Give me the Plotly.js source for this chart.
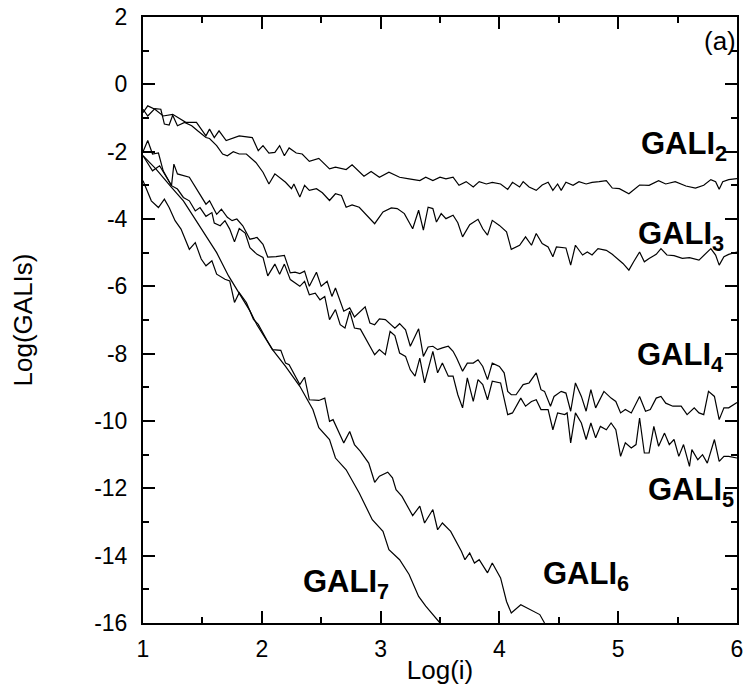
<!DOCTYPE html>
<html>
<head>
<meta charset="utf-8">
<script src="https://cdn.plot.ly/plotly-3.0.1.min.js"></script>
<style>html,body{margin:0;padding:0;background:#fff;}#chart{width:744px;height:698px;}</style>
</head>
<body>
<div id="chart"></div>
<script>
// Log(i) values and Log(GALI_k) values
const gali2X = [1.0,1.04,1.1,1.17,1.25,1.36,1.45,1.53,1.56,1.6,1.64,1.7,1.81,1.92,1.97,2.01,2.06,2.11,2.15,2.19,2.23,2.29,2.34,2.4,2.48,2.57,2.62,2.71,2.76,2.86,2.92,2.99,3.07,3.16,3.24,3.33,3.38,3.44,3.5,3.55,3.61,3.66,3.72,3.78,3.83,3.89,3.94,4.01,4.07,4.11,4.17,4.2,4.25,4.31,4.36,4.41,4.45,4.49,4.52,4.56,4.62,4.67,4.73,4.78,4.84,4.9,4.95,5.01,5.09,5.18,5.26,5.34,5.4,5.48,5.57,5.65,5.72,5.78,5.82,5.85,5.88,5.93,6.0];
const gali2Y = [-0.84,-0.64,-0.74,-0.94,-0.89,-1.13,-1.13,-1.53,-1.33,-1.58,-1.38,-1.67,-1.53,-1.58,-1.97,-1.82,-2.04,-2.02,-1.82,-2.12,-1.89,-2.04,-2.07,-2.29,-2.2,-2.51,-2.46,-2.53,-2.39,-2.73,-2.59,-2.76,-2.61,-2.76,-2.81,-2.86,-2.76,-2.86,-2.76,-2.81,-2.76,-3.0,-2.89,-3.05,-2.89,-2.96,-2.91,-2.96,-3.12,-2.91,-3.05,-2.89,-3.05,-3.15,-2.99,-2.91,-3.15,-2.96,-3.15,-2.91,-3.0,-2.89,-2.96,-2.91,-2.89,-2.86,-3.08,-3.1,-3.25,-2.99,-3.0,-2.86,-2.96,-2.89,-3.02,-3.08,-3.0,-2.83,-2.89,-3.12,-2.89,-2.83,-2.8];

const gali3X = [1.0,1.04,1.1,1.15,1.18,1.22,1.25,1.29,1.35,1.41,1.46,1.53,1.56,1.62,1.67,1.71,1.76,1.81,1.87,1.95,2.01,2.06,2.11,2.16,2.2,2.25,2.27,2.32,2.36,2.4,2.46,2.51,2.57,2.62,2.67,2.71,2.76,2.82,2.88,2.95,3.02,3.09,3.14,3.2,3.27,3.32,3.36,3.4,3.44,3.47,3.51,3.55,3.61,3.65,3.69,3.75,3.82,3.86,3.9,3.94,4.0,4.06,4.1,4.17,4.22,4.27,4.31,4.36,4.41,4.45,4.48,4.56,4.6,4.64,4.7,4.74,4.78,4.83,4.9,4.95,5.04,5.09,5.13,5.18,5.22,5.26,5.32,5.36,5.41,5.47,5.54,5.6,5.68,5.74,5.78,5.82,5.85,5.89,5.93,6.0];
const gali3Y = [-0.74,-0.94,-0.72,-0.74,-1.18,-1.21,-0.92,-1.23,-1.13,-1.23,-1.38,-1.58,-1.61,-1.82,-2.07,-2.12,-2.0,-2.07,-2.07,-2.32,-2.61,-2.96,-2.66,-2.79,-2.91,-3.1,-2.96,-3.35,-3.0,-3.15,-3.1,-3.22,-3.45,-3.25,-3.3,-3.65,-3.58,-3.65,-3.87,-4.14,-3.79,-3.67,-3.69,-3.84,-4.29,-3.74,-4.33,-3.65,-3.69,-4.09,-3.84,-3.99,-3.89,-4.11,-4.53,-4.17,-4.01,-4.29,-4.48,-4.04,-4.19,-4.38,-4.9,-4.78,-4.53,-4.78,-4.43,-4.73,-4.83,-5.12,-4.83,-4.86,-5.37,-4.78,-5.07,-4.98,-5.07,-4.88,-4.93,-5.05,-5.32,-5.52,-5.27,-4.98,-5.27,-5.17,-5.05,-4.88,-5.07,-5.09,-5.17,-5.15,-5.22,-5.02,-4.88,-5.07,-5.37,-5.12,-5.05,-4.98];

const gali4X = [1.0,1.04,1.08,1.13,1.17,1.24,1.26,1.29,1.39,1.45,1.49,1.53,1.56,1.62,1.66,1.71,1.75,1.79,1.84,1.9,1.96,2.01,2.05,2.12,2.19,2.24,2.28,2.32,2.36,2.4,2.46,2.5,2.55,2.59,2.62,2.69,2.74,2.78,2.87,2.91,2.95,2.99,3.04,3.12,3.16,3.21,3.25,3.32,3.36,3.4,3.44,3.48,3.52,3.57,3.61,3.64,3.69,3.73,3.78,3.82,3.86,3.9,3.94,4.0,4.04,4.07,4.1,4.14,4.2,4.25,4.31,4.35,4.38,4.43,4.46,4.52,4.56,4.6,4.64,4.69,4.73,4.77,4.81,4.88,4.94,4.98,5.02,5.06,5.11,5.18,5.23,5.27,5.32,5.36,5.4,5.46,5.53,5.58,5.64,5.68,5.72,5.76,5.81,5.85,5.89,5.93,6.0];
const gali4Y = [-2.0,-1.67,-2.07,-2.04,-2.57,-3.01,-2.37,-2.66,-2.76,-3.11,-3.36,-3.56,-3.46,-3.86,-3.71,-3.95,-4.05,-4.0,-4.2,-4.6,-4.55,-4.75,-5.13,-5.12,-5.08,-5.6,-5.58,-5.62,-5.55,-6.0,-5.58,-6.0,-5.85,-6.3,-6.05,-6.74,-6.64,-6.91,-6.61,-7.09,-7.14,-6.97,-6.99,-7.24,-7.11,-7.29,-7.78,-7.26,-8.08,-7.8,-7.78,-7.88,-7.83,-7.78,-7.93,-8.13,-8.52,-8.28,-8.28,-8.18,-8.38,-8.77,-8.28,-8.38,-8.57,-9.12,-9.22,-9.22,-8.92,-8.87,-8.57,-9.07,-9.12,-9.56,-9.27,-9.12,-9.17,-9.71,-8.87,-9.27,-9.71,-9.07,-9.61,-9.12,-9.32,-9.42,-9.76,-9.66,-9.76,-9.27,-9.71,-9.66,-9.32,-9.27,-9.47,-9.56,-9.56,-9.81,-9.61,-9.76,-9.81,-9.12,-9.27,-9.96,-9.61,-9.61,-9.45];

const gali5X = [1.0,1.08,1.14,1.18,1.24,1.29,1.34,1.39,1.44,1.48,1.53,1.58,1.6,1.65,1.69,1.73,1.77,1.81,1.86,1.9,1.96,2.01,2.05,2.11,2.15,2.19,2.24,2.32,2.36,2.4,2.45,2.49,2.53,2.57,2.62,2.66,2.7,2.74,2.78,2.83,2.95,2.99,3.04,3.08,3.12,3.16,3.21,3.25,3.29,3.33,3.37,3.44,3.48,3.52,3.57,3.61,3.65,3.69,3.73,3.78,3.82,3.86,3.9,3.94,4.01,4.07,4.11,4.18,4.22,4.27,4.31,4.35,4.41,4.45,4.49,4.55,4.57,4.6,4.64,4.69,4.73,4.77,4.81,4.85,4.9,4.94,4.98,5.02,5.06,5.11,5.15,5.18,5.22,5.26,5.3,5.34,5.39,5.43,5.47,5.51,5.55,5.6,5.62,5.67,5.71,5.75,5.81,5.85,5.89,5.93,6.0];
const gali5Y = [-2.12,-2.57,-2.42,-2.66,-3.01,-3.11,-3.36,-3.46,-3.76,-3.66,-3.92,-3.81,-4.12,-4.2,-4.05,-4.3,-4.68,-4.28,-4.42,-4.85,-5.05,-5.14,-5.69,-5.34,-5.64,-5.34,-5.8,-6.0,-5.85,-6.25,-6.2,-6.4,-6.3,-6.99,-6.69,-7.14,-7.24,-6.74,-7.24,-7.27,-8.03,-7.88,-8.03,-7.34,-7.46,-7.98,-8.08,-8.48,-8.67,-8.13,-8.87,-7.93,-8.57,-8.28,-8.67,-8.67,-9.22,-9.61,-8.72,-9.42,-8.77,-8.92,-9.37,-8.82,-8.87,-9.81,-9.76,-9.32,-9.56,-9.42,-9.37,-9.66,-9.66,-10.26,-9.76,-9.81,-9.76,-10.65,-9.76,-10.06,-10.55,-10.06,-10.5,-10.16,-10.26,-10.06,-10.26,-11.05,-10.65,-10.8,-10.7,-9.91,-10.95,-10.95,-10.16,-10.75,-10.36,-10.7,-10.55,-11.05,-10.7,-11.35,-10.85,-11.15,-11.0,-11.25,-10.55,-11.2,-11.05,-11.05,-11.1];

const gali6X = [1.0,1.07,1.13,1.18,1.22,1.27,1.32,1.39,1.44,1.49,1.53,1.58,1.62,1.69,1.73,1.77,1.81,1.87,1.93,1.97,2.04,2.09,2.16,2.2,2.23,2.32,2.36,2.4,2.48,2.53,2.57,2.6,2.69,2.74,2.78,2.83,2.9,2.95,2.99,3.06,3.1,3.13,3.18,3.27,3.33,3.37,3.44,3.48,3.52,3.59,3.68,3.71,3.75,3.79,3.83,3.9,3.94,4.01,4.06,4.1,4.18,4.28,4.34,4.38];
const gali6Y = [-2.86,-3.46,-3.66,-3.41,-3.66,-4.05,-4.3,-4.9,-4.7,-5.19,-5.39,-5.24,-5.64,-5.79,-5.84,-6.48,-6.19,-6.48,-6.98,-7.13,-7.58,-7.88,-7.9,-8.28,-8.33,-8.92,-8.7,-9.37,-9.39,-9.32,-10.01,-9.96,-10.65,-10.31,-10.7,-10.9,-11.25,-11.82,-11.64,-11.52,-11.69,-12.04,-12.24,-12.81,-12.53,-13.03,-12.63,-13.23,-13.03,-13.28,-13.87,-14.12,-13.92,-14.22,-14.12,-14.51,-14.22,-14.66,-15.36,-15.7,-15.46,-15.65,-15.75,-16.0];

const gali7X = [1.0,1.11,1.24,1.34,1.42,1.53,1.62,1.72,1.79,1.84,1.9,1.96,2.09,2.2,2.32,2.43,2.48,2.57,2.62,2.71,2.82,2.93,3.02,3.07,3.16,3.24,3.32,3.38,3.47,3.5];
const gali7Y = [-2.12,-2.52,-3.06,-3.46,-3.9,-4.5,-5.0,-5.69,-6.09,-6.38,-6.73,-7.15,-7.88,-8.38,-8.97,-9.66,-10.2,-10.55,-11.1,-11.45,-12.14,-12.93,-13.28,-13.82,-14.12,-14.56,-15.21,-15.5,-15.9,-16.0];

const seriesNames = ['GALI2','GALI3','GALI4','GALI5','GALI6','GALI7'];
const labelTexts = ['GALI<sub>2</sub>','GALI<sub>3</sub>','GALI<sub>4</sub>','GALI<sub>5</sub>','GALI<sub>6</sub>','GALI<sub>7</sub>'];
const labelX = [5.93, 5.91, 5.9, 5.99, 5.11, 3.09];
const labelY = [-1.82, -4.51, -8.09, -12.1, -14.59, -14.83];
const xTickVals = [1,2,3,4,5,6];
const yTickVals = [2,0,-2,-4,-6,-8,-10,-12,-14,-16];
const panelTag = '(a)';

const xs = [gali2X,gali3X,gali4X,gali5X,gali6X,gali7X];
const ys = [gali2Y,gali3Y,gali4Y,gali5Y,gali6Y,gali7Y];

const FONT = 'Arial, "Liberation Sans", Helvetica, sans-serif';

const traces = xs.map((x,i)=>({
  x: x, y: ys[i], name: seriesNames[i], type:'scatter', mode:'lines',
  line:{color:'#000', width:1.2}, showlegend:false, cliponaxis:true
}));

const annotations = labelTexts.map((t,i)=>({
  x: labelX[i], y: labelY[i], xref:'x', yref:'y', text: t, showarrow:false,
  xanchor:'right', yanchor:'middle',
  font:{family:FONT, size:31, color:'#000', weight:'bold'}
}));
annotations.push({
  x: 6, y: 1.3, xref:'x', yref:'y', text: panelTag, showarrow:false,
  xanchor:'right', yanchor:'middle', xshift:1,
  font:{family:FONT, size:26, color:'#000'}
});

const axisCommon = {
  showgrid:false, zeroline:false, showline:true, linecolor:'#000', linewidth:2,
  mirror:'allticks', ticks:'inside', ticklen:12, tickwidth:2, tickcolor:'#000',
  tickfont:{family:FONT, size:23, color:'#000'}
};

const layout = {
  width:744, height:698,
  margin:{l:143, r:7, t:17, b:75, pad:0},
  paper_bgcolor:'#fff', plot_bgcolor:'#fff',
  xaxis: Object.assign({}, axisCommon, {
    range:[1,6], tickvals:xTickVals, ticktext:xTickVals.map(String),
    minor:{ticks:'inside', ticklen:6, tickwidth:2, tickcolor:'#000', dtick:0.5, tick0:1, showgrid:false},
    title:{text:'Log(i)', font:{family:FONT, size:26, color:'#000'}, standoff:0},
    ticklabelstandoff: 4
  }),
  yaxis: Object.assign({}, axisCommon, {
    range:[-16,2], tickvals:yTickVals, ticktext:yTickVals.map(String),
    minor:{ticks:'inside', ticklen:6, tickwidth:2, tickcolor:'#000', dtick:1, tick0:0, showgrid:false},
    title:{text:'Log(GALIs)', font:{family:FONT, size:26, color:'#000'}, standoff:54},
    ticklabelstandoff: 9
  }),
  annotations: annotations
};

Plotly.newPlot('chart', traces, layout, {displayModeBar:false, staticPlot:true});
</script>
</body>
</html>
